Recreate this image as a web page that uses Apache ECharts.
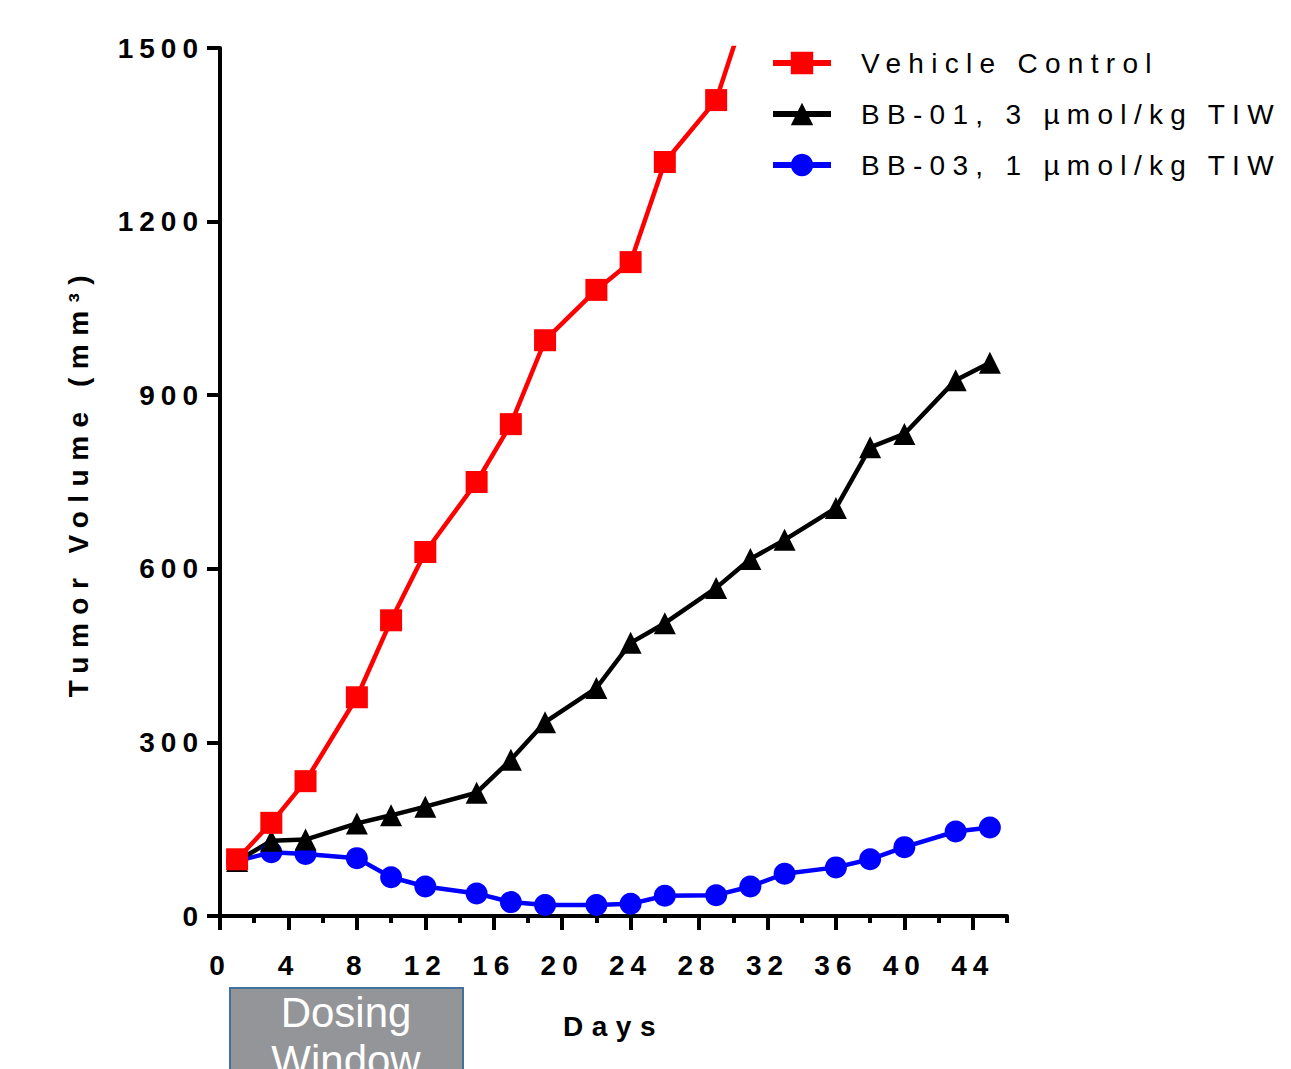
<!DOCTYPE html>
<html>
<head>
<meta charset="utf-8">
<script src="https://cdn.jsdelivr.net/npm/echarts@6/dist/echarts.min.js"></script>
<style>
html,body{margin:0;padding:0;background:#fff;}
#main{width:1291px;height:1069px;}
</style>
</head>
<body>
<div id="main"></div>
<script>
// ---- data ----
const vehicleDays = [1,3,5,8,10,12,15,17,19,22,24,26,29,31];
const vehicleVals = [98,161,233,378,511,629,750,850,995,1082,1130,1303,1410,1590];
const bbDays = [1,3,5,8,10,12,15,17,19,22,24,26,29,31,33,36,38,40,43,45];
const bb01Vals = [95,130,132,160,174,189,213,270,335,394,472,506,567,617,650,705,810,833,926,956];
const bb03Vals = [95,110,107,100,67,51,39,24,19,19,21,35,36,51,73,84,98,119,146,153];
const xMajorTicks = [0,4,8,12,16,20,24,28,32,36,40,44];
const xMinorTicks = [2,6,10,14,18,22,26,30,34,38,42,46];
const seriesNames = ['Vehicle Control','BB-01, 3 µmol/kg TIW','BB-03, 1 µmol/kg TIW'];

const pairs = (xs, ys) => xs.map((x,i)=>[x, ys[i]]);
const FONT = 'Liberation Sans';

const chart = echarts.init(document.getElementById('main'), null, {renderer:'svg'});
const option = {
  animation:false,
  backgroundColor:'#fff',
  grid:{left:220, right:284, top:48, bottom:153, containLabel:false},
  legend:{
    left:765, top:44, orient:'vertical',
    itemWidth:58, itemHeight:28, itemGap:23,
    data: seriesNames,
    lineStyle:{width:6},
    textStyle:{fontFamily:FONT, fontSize:28, color:'#000', padding:[0,0,0,25]},
    selectedMode:false
  },
  xAxis:[{
    type:'value', min:0, max:46, position:'bottom',
    axisLine:{show:true, onZero:false, lineStyle:{color:'#000', width:4}},
    axisTick:{show:true, length:14, lineStyle:{color:'#000', width:4}, customValues:xMajorTicks},
    axisLabel:{show:true, customValues:xMajorTicks, margin:35, fontFamily:FONT, fontSize:28, fontWeight:'bold', color:'#000'},
    splitLine:{show:false},
    name:'Days', nameLocation:'middle', nameGap:96,
    nameTextStyle:{fontFamily:FONT, fontSize:28, fontWeight:'bold', color:'#000'}
  },{
    type:'value', min:0, max:46, position:'bottom',
    axisLine:{show:false},
    axisTick:{show:true, length:7, lineStyle:{color:'#000', width:4}, customValues:xMinorTicks},
    axisLabel:{show:false},
    splitLine:{show:false}
  }],
  yAxis:{
    type:'value', min:0, max:1500, interval:300,
    axisLine:{show:true, lineStyle:{color:'#000', width:4}},
    axisTick:{show:true, length:13, lineStyle:{color:'#000', width:4}},
    axisLabel:{margin:16, fontFamily:FONT, fontSize:28, fontWeight:'bold', color:'#000', formatter:v=>String(v)},
    splitLine:{show:false},
    name:'Tumor Volume (mm³)', nameLocation:'middle', nameGap:128,
    nameTextStyle:{fontFamily:FONT, fontSize:28, fontWeight:'bold', color:'#000'}
  },
  series:[
    {name:seriesNames[2], type:'line', data:pairs(bbDays, bb03Vals), color:'#0000FF',
      symbol:'circle', symbolSize:22, lineStyle:{width:4.5, color:'#0000FF'}, itemStyle:{color:'#0000FF'}, clip:true},
    {name:seriesNames[1], type:'line', data:pairs(bbDays, bb01Vals), color:'#000000',
      symbol:'triangle', symbolSize:22, lineStyle:{width:4.5, color:'#000'}, itemStyle:{color:'#000'}, clip:true},
    {name:seriesNames[0], type:'line', data:pairs(vehicleDays, vehicleVals), color:'#FF0000',
      symbol:'rect', symbolSize:22, lineStyle:{width:4.5, color:'#FF0000'}, itemStyle:{color:'#FF0000'}, clip:true}
  ],
  graphic:[
    {type:'rect', left:229, top:987, z:10,
      shape:{width:233, height:110},
      style:{fill:'#939598', stroke:'#41719C', lineWidth:2}},
    {type:'text', x:346, y:988, z:11,
      style:{text:'Dosing\nWindow', fill:'#fff', font:'42px "Liberation Sans"', align:'center', verticalAlign:'top', lineHeight:48}}
  ]
};
chart.setOption(option);

function applySpacing(){
  document.querySelectorAll('#main text').forEach(el => {
    const t = el.textContent;
    let ls = '0px';
    if (t === 'Dosing' || t === 'Window' || t.indexOf('Dosing') >= 0) ls = '0px';
    else if (t === 'Days' || t.indexOf('Tumor') === 0) ls = '8.5px';
    else if (/^\d+$/.test(t)) ls = '6px';
    else ls = '7.3px';
    el.style.letterSpacing = ls;
  });
}
chart.on('finished', applySpacing);
applySpacing();
</script>
</body>
</html>
